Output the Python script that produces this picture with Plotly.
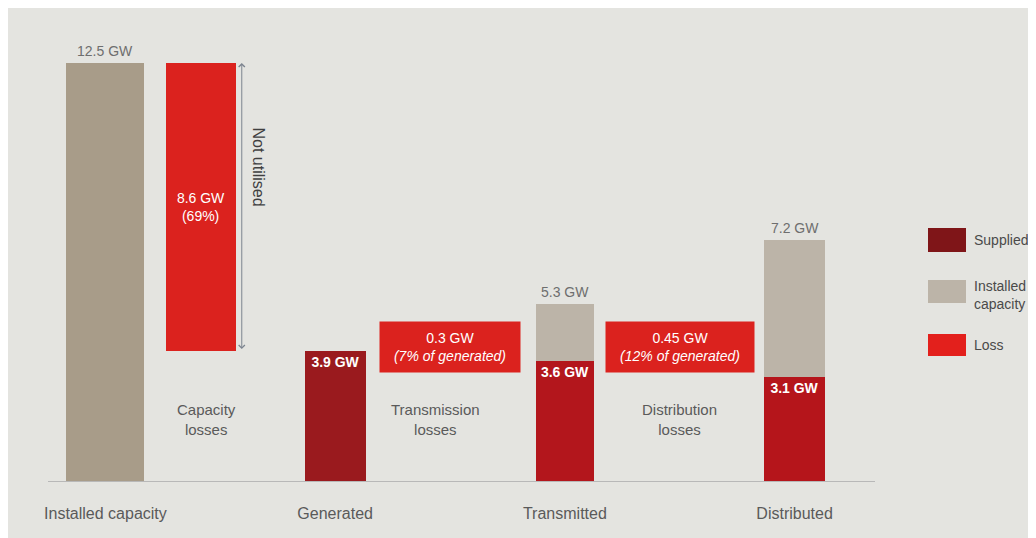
import plotly.graph_objects as go

# ---- data ----
categories = ["Installed capacity", "Capacity losses", "Generated", "Transmission losses",
              "Transmitted", "Distribution losses", "Distributed"]
tick_labels = ["Installed capacity", "", "Generated", "", "Transmitted", "", "Distributed"]

installed_capacity = 12.5          # GW
capacity_loss = 8.6                # GW not utilised
capacity_loss_pct = 69
supplied_cats = ["Generated", "Transmitted", "Distributed"]
supplied_vals = [3.9, 3.6, 3.1]    # GW
capacity_cats = ["Transmitted", "Distributed"]
capacity_totals = [5.3, 7.2]       # GW installed capacity at stage
loss_cats = ["Transmission losses", "Distribution losses"]
loss_vals = [0.3, 0.45]            # GW
loss_pcts = [7, 12]                # % of generated
loss_names = ["Transmission<br>losses", "Distribution<br>losses"]

# ---- layout geometry (page has an 8px body margin) ----
OFF = 8
W, H = 1028, 530
L, R, T, B = 40, 161, 12, 57
PW, PH = W - L - R, H - T - B
def px(x): return (x - OFF - L) / PW
def py(y): return (H - B - (y - OFF)) / PH

FONT = "Liberation Sans, Arial, sans-serif"
GREY_TXT = "#5a5a5a"
C_SUP = ["#9a1a1e", "#b3161c", "#b5151b"]
C_CAP_MAIN = "#a89c89"
C_CAP = "#bcb4a8"
C_LOSS = "#db221e"

fig = go.Figure()

# installed capacity (grey)
cap_x = ["Installed capacity"] + capacity_cats
cap_base = [0] + supplied_vals[1:]
cap_h = [installed_capacity] + [t - s for t, s in zip(capacity_totals, supplied_vals[1:])]
fig.add_trace(go.Bar(
    x=cap_x, y=cap_h, base=cap_base, name="Installed capacity",
    marker=dict(color=[C_CAP_MAIN, C_CAP, C_CAP], line=dict(width=0)),
    width=[0.68, 0.51, 0.53], showlegend=False, hoverinfo="skip"))

# loss bar (capacity losses, floating)
fig.add_trace(go.Bar(
    x=["Capacity losses"], y=[capacity_loss], base=[installed_capacity - capacity_loss],
    name="Loss", marker=dict(color=C_LOSS, line=dict(width=0)),
    width=[0.61], offset=[-0.47],
    text=[f"{capacity_loss} GW<br>({capacity_loss_pct}%)"], textposition="inside",
    insidetextanchor="middle", textangle=0,
    textfont=dict(color="white", size=14, family=FONT), showlegend=False, hoverinfo="skip"))

# supplied
fig.add_trace(go.Bar(
    x=supplied_cats, y=supplied_vals, base=[0, 0, 0], name="Supplied",
    marker=dict(color=C_SUP, line=dict(width=0)),
    width=[0.53, 0.51, 0.53],
    text=[f"<b>{v} GW</b>" for v in supplied_vals], textposition="inside",
    insidetextanchor="end", textangle=0,
    textfont=dict(color="white", size=14, family=FONT), showlegend=False, hoverinfo="skip"))

annotations = []
# totals above grey bars
for c, v in zip(["Installed capacity"] + capacity_cats, [installed_capacity] + capacity_totals):
    annotations.append(dict(x=c, y=v, text=f"{v} GW", showarrow=False, yanchor="bottom", yshift=2,
                            font=dict(size=14, color="#6e6e6e", family=FONT)))

# loss boxes
for c, v, p in zip(loss_cats, loss_vals, loss_pcts):
    annotations.append(dict(x=c, y=supplied_vals[0], text=f"{v} GW<br><i>({p}% of generated)</i>",
                            showarrow=False, bgcolor=C_LOSS, width=138 if p < 10 else 146, height=48,
                            yshift=4, font=dict(size=14, color="white", family=FONT)))
# loss category labels
annotations.append(dict(x=1, y=1.85, xshift=-14, text="Capacity<br>losses", showarrow=False,
                        font=dict(size=15, color=GREY_TXT, family=FONT)))
for c, n, s in zip(loss_cats, loss_names, [-15, 0]):
    annotations.append(dict(x=c, y=1.85, xshift=s, text=n, showarrow=False,
                            font=dict(size=15, color=GREY_TXT, family=FONT)))

# Not utilised arrow
annotations.append(dict(x=1.187, y=installed_capacity, ax=1.187, ay=installed_capacity - capacity_loss,
                        axref="x", ayref="y", xref="x", yref="y", text="", showarrow=True,
                        arrowhead=4, startarrowhead=4, arrowside="end+start",
                        arrowwidth=1, arrowcolor="#7d8590", arrowsize=1.2, startarrowsize=1.2))
annotations.append(dict(x=1.33, y=9.4, text="Not utilised", textangle=90, showarrow=False,
                        font=dict(size=16, color="#404040", family=FONT)))

# manual legend
shapes = []
legend_items = [("Supplied", "#7f1518", 228, 252, 240),
                ("Installed<br>capacity", C_CAP, 280, 303, 295),
                ("Loss", "#e3201c", 334, 356, 345)]
for name, col, y0, y1, yt in legend_items:
    shapes.append(dict(type="rect", xref="paper", yref="paper", x0=px(928), x1=px(966),
                       y0=py(y1), y1=py(y0), fillcolor=col, line=dict(width=0)))
    annotations.append(dict(xref="paper", yref="paper", x=px(972), y=py(yt), text=name,
                            showarrow=False, xanchor="left", yanchor="middle", align="left",
                            font=dict(size=14, color="#4a4a4a", family=FONT)))

fig.update_layout(
    width=W, height=H, margin=dict(l=L, r=R, t=T, b=B),
    paper_bgcolor="#e4e4e0", plot_bgcolor="rgba(0,0,0,0)",
    barmode="overlay", bargap=0,
    annotations=annotations, shapes=shapes,
    xaxis=dict(type="category", categoryorder="array", categoryarray=categories,
               range=[-0.5, 6.7], tickmode="array", tickvals=categories, ticktext=tick_labels,
               showgrid=False, zeroline=False, showline=True, linecolor="#b8b8b8", linewidth=1,
               ticks="outside", ticklen=18, tickcolor="rgba(0,0,0,0)",
               tickfont=dict(size=16, color=GREY_TXT, family=FONT)),
    yaxis=dict(range=[0, PH / 33.44], visible=False, showgrid=False, zeroline=False),
    uniformtext=dict(mode=False),
)

fig.write_html("out.html")
